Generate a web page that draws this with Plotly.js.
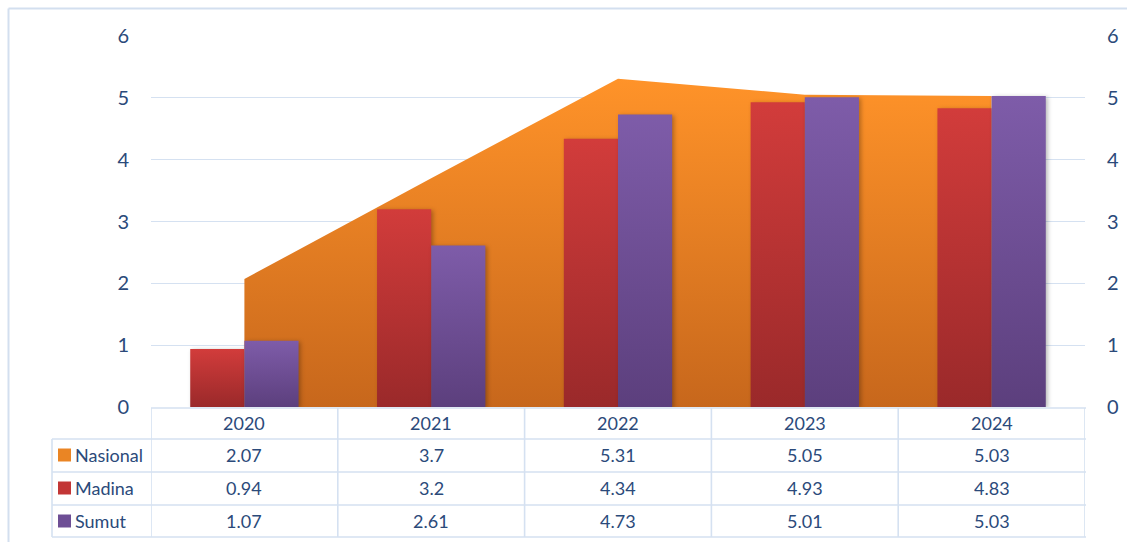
<!DOCTYPE html>
<html>
<head>
<meta charset="utf-8">
<script src="https://cdn.plot.ly/plotly-3.0.1.min.js"></script>
<style>
  html, body { margin: 0; padding: 0; background: #ffffff; }
  #chart { width: 1127px; height: 542px; }
  .barlayer .point path { filter: drop-shadow(2px 1px 2px rgba(0,0,0,0.28)); }
</style>
</head>
<body>
<div id="chart"></div>
<script>
// ---- data ----
const years = ['2020', '2021', '2022', '2023', '2024'];
const nasional = [2.07, 3.7, 5.31, 5.05, 5.03];
const madina = [0.94, 3.2, 4.34, 4.93, 4.83];
const sumut = [1.07, 2.61, 4.73, 5.01, 5.03];
const seriesNames = ['Nasional', 'Madina', 'Sumut'];
const yTicks = [0, 1, 2, 3, 4, 5, 6];

// ---- geometry helpers (layout only) ----
const W = 1127, H = 542, L = 151, R = 42, T = 36, B = 135;
const px = X => (X - L) / (W - L - R);
const py = Y => (H - B - Y) / (H - T - B);

const TXT = '#2B4A7A';
const FONT = 'Lato, "Open Sans", "Liberation Sans", sans-serif';
const GRID = '#D5E1F1';

const seriesValues = [nasional, madina, sumut];
const swatch = ['#EA8524', '#C23636', '#6D4E95'];

const traces = [
  {
    type: 'scatter', mode: 'lines', x: years, y: nasional, name: seriesNames[0],
    xaxis: 'x', yaxis: 'y',
    line: { width: 0, color: '#F08A25' },
    fill: 'tozeroy',
    fillgradient: { type: 'vertical', start: 0, stop: Math.max(...nasional),
      colorscale: [[0, '#C7671C'], [1, '#FF9329']] },
    hoverinfo: 'skip', showlegend: false
  },
  {
    type: 'bar', x: years, y: madina, name: seriesNames[1],
    xaxis: 'x', yaxis: 'y2', marker: { color: '#B83333', line: { width: 0 } },
    showlegend: false
  },
  {
    type: 'bar', x: years, y: sumut, name: seriesNames[2],
    xaxis: 'x', yaxis: 'y2', marker: { color: '#6E4F96', line: { width: 0 } },
    showlegend: false
  }
];

// ---- table (annotations + lines) ----
const annotations = [];
const shapes = [];
const headerY = 423, rowY = [455, 488, 521];
const tFont = { family: FONT, size: 18, color: TXT };
years.forEach((yr, i) => {
  annotations.push({ xref: 'x', yref: 'paper', x: i, y: py(headerY), text: yr,
    showarrow: false, xanchor: 'center', yanchor: 'middle', font: tFont });
  seriesValues.forEach((vals, r) => {
    annotations.push({ xref: 'x', yref: 'paper', x: i, y: py(rowY[r]), text: String(vals[i]),
      showarrow: false, xanchor: 'center', yanchor: 'middle', font: tFont });
  });
});
seriesNames.forEach((nm, r) => {
  annotations.push({ xref: 'paper', yref: 'paper', x: px(73), y: py(rowY[r]), text: nm,
    showarrow: false, xanchor: 'left', yanchor: 'middle', font: tFont });
  shapes.push({ type: 'rect', xref: 'paper', yref: 'paper', x0: px(58), x1: px(71),
    y0: py(rowY[r] - 6.5), y1: py(rowY[r] + 6.5), fillcolor: swatch[r], line: { width: 0 } });
});
const lineStyle = { color: GRID, width: 1.6 };
// horizontal lines
[[L, 1086, 408], [52, 1086, 439], [52, 1086, 472], [52, 1086, 505], [52, 1086, 537]].forEach(([a, b, y]) => {
  shapes.push({ type: 'line', xref: 'paper', yref: 'paper', x0: px(a), x1: px(b), y0: py(y), y1: py(y), line: lineStyle });
});
// vertical lines
shapes.push({ type: 'line', xref: 'paper', yref: 'paper', x0: px(52), x1: px(52), y0: py(439), y1: py(537), line: lineStyle });
for (let k = 0; k <= years.length; k++) {
  shapes.push({ type: 'line', xref: 'x', yref: 'paper', x0: k - 0.5, x1: k - 0.5, y0: py(408), y1: py(537), line: lineStyle });
}
// outer chart border
shapes.push({ type: 'line', xref: 'paper', yref: 'paper', x0: px(8.5), x1: px(8.5), y0: py(8.5), y1: py(560), line: { color: '#D3DFEF', width: 2 } });
shapes.push({ type: 'line', xref: 'paper', yref: 'paper', x0: px(8.5), x1: px(1140), y0: py(8.5), y1: py(8.5), line: { color: '#D3DFEF', width: 2 } });

const layout = {
  width: W, height: H,
  margin: { l: L, r: R, t: T, b: B, pad: 0 },
  paper_bgcolor: '#ffffff', plot_bgcolor: 'rgba(0,0,0,0)',
  font: { family: FONT, color: TXT },
  barmode: 'group', bargap: 0.42, bargroupgap: 0,
  showlegend: false,
  xaxis: { type: 'category', range: [-0.5, years.length - 0.5], showticklabels: false,
    showgrid: false, zeroline: false, showline: false, ticks: '' },
  yaxis: { range: [0, 6], tickvals: yTicks, ticktext: yTicks.map(String), showgrid: true, gridcolor: GRID, gridwidth: 1.2,
    zeroline: false, showline: false, ticks: '', ticklabelstandoff: 21,
    tickfont: { family: FONT, size: 20, color: TXT } },
  yaxis2: { range: [0, 6], tickvals: yTicks, ticktext: yTicks.map(String), overlaying: 'y', side: 'right', showgrid: false,
    zeroline: false, showline: false, ticks: '', ticklabelstandoff: 21,
    tickfont: { family: FONT, size: 20, color: TXT } },
  annotations: annotations,
  shapes: shapes
};

const gd = document.getElementById('chart');
Plotly.newPlot(gd, traces, layout, { staticPlot: true, displayModeBar: false }).then(() => {
  const NS = 'http://www.w3.org/2000/svg';
  const defs = gd.querySelector('.main-svg defs');
  const grads = [['gMadina', '#D23C3B', '#9A292A'], ['gSumut', '#7E5CA9', '#5C3F7D']];
  grads.forEach(([id, c1, c2]) => {
    const lg = document.createElementNS(NS, 'linearGradient');
    lg.setAttribute('id', id);
    lg.setAttribute('x1', '0'); lg.setAttribute('y1', '0');
    lg.setAttribute('x2', '0'); lg.setAttribute('y2', '1');
    [[0, c1], [1, c2]].forEach(([o, c]) => {
      const s = document.createElementNS(NS, 'stop');
      s.setAttribute('offset', o);
      s.setAttribute('stop-color', c);
      lg.appendChild(s);
    });
    defs.appendChild(lg);
  });
  const barTraces = gd.querySelectorAll('.barlayer .trace');
  barTraces.forEach((tr, i) => {
    tr.querySelectorAll('.point path').forEach(p => { p.style.fill = 'url(#' + grads[i % 2][0] + ')'; });
  });
});
</script>
</body>
</html>
